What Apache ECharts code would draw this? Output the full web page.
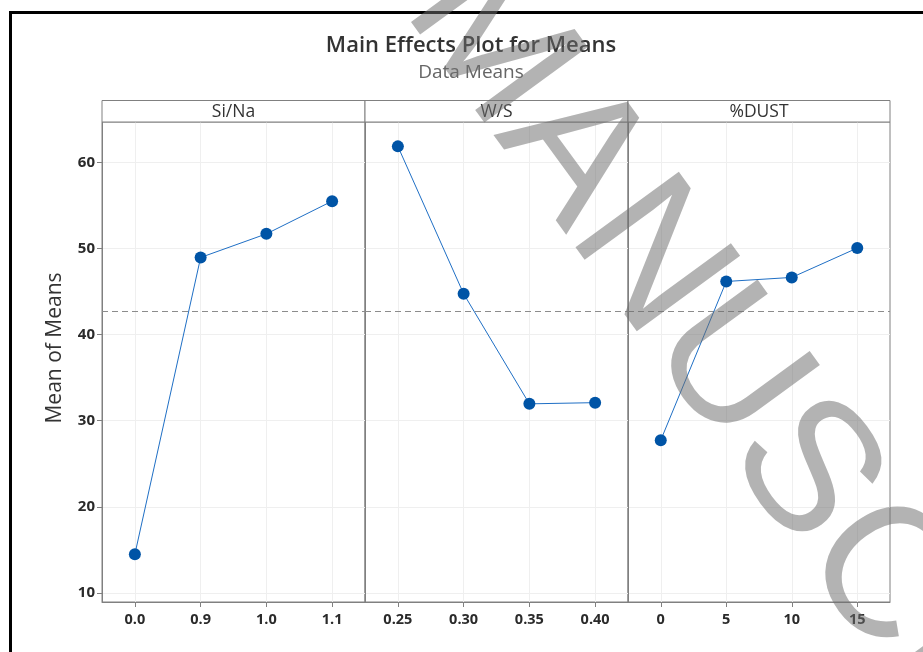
<!DOCTYPE html>
<html>
<head>
<meta charset="utf-8">
<script src="https://cdn.jsdelivr.net/npm/echarts@6/dist/echarts.min.js"></script>
<style>
html,body{margin:0;padding:0;background:#fff;}
#c{width:923px;height:652px;}
</style>
</head>
<body>
<div id="c"></div>
<script>
const factorNames = ['Si/Na', 'W/S', '%DUST'];
const siNaLabels = ['0.0', '0.9', '1.0', '1.1'];
const siNaMeans = [14.5, 48.96, 51.7, 55.5];
const wsLabels = ['0.25', '0.30', '0.35', '0.40'];
const wsMeans = [61.86, 44.74, 31.96, 32.1];
const dustLabels = ['0', '5', '10', '15'];
const dustMeans = [27.74, 46.17, 46.64, 50.05];
const yTicks = [10, 20, 30, 40, 50, 60];
const grandMean = 42.67;
const yMin = 8.95;
const yMax = 64.69;

const panelLabels = [siNaLabels, wsLabels, dustLabels];
const panelMeans = [siNaMeans, wsMeans, dustMeans];

const chart = echarts.init(document.getElementById('c'), null, {renderer: 'canvas'});

const panelLeft = [102, 365, 628];
const panelWidth = [263, 263, 262];
const gridTop = 122, gridHeight = 480;
const fontFam = '"Open Sans", "Noto Sans", sans-serif';

const grids = [], xAxes = [], yAxes = [], series = [], headers = [];
for (let i = 0; i < 3; i++) {
  grids.push({
    left: panelLeft[i], top: gridTop, width: panelWidth[i], height: gridHeight,
    show: true, borderColor: '#808080', borderWidth: 1, backgroundColor: 'transparent',
    containLabel: false
  });
  xAxes.push({
    type: 'category', gridIndex: i, data: panelLabels[i], boundaryGap: true,
    axisLine: {show: true, lineStyle: {color: '#808080', width: 1}},
    axisTick: {show: true, alignWithLabel: true, length: 5, lineStyle: {color: '#808080'}},
    axisLabel: {color: '#2a2a2a', fontSize: 14.5, fontFamily: fontFam, fontWeight: 'bold', margin: 10},
    splitLine: {show: true, alignWithLabel: true, lineStyle: {color: '#efefef', width: 1}}
  });
  yAxes.push({
    type: 'value', gridIndex: i, min: yMin, max: yMax,
    axisLine: {show: true, lineStyle: {color: '#808080', width: 1}},
    axisTick: {show: i === 0, length: 5, customValues: yTicks, lineStyle: {color: '#808080'}},
    axisLabel: {
      show: i === 0, color: '#2a2a2a', fontSize: 15, fontFamily: fontFam, fontWeight: 'bold', margin: 7,
      customValues: yTicks,
      formatter: v => String(v)
    },
    splitLine: {show: true, lineStyle: {color: '#efefef', width: 1}}
  });
  series.push({
    type: 'line', xAxisIndex: i, yAxisIndex: i, data: panelMeans[i],
    symbol: 'circle', symbolSize: 12,
    itemStyle: {color: '#0054A6'},
    lineStyle: {color: '#1F6FC5', width: 1},
    z: 5,
    markLine: {
      silent: true, symbol: 'none', label: {show: false},
      lineStyle: {color: '#8c8c8c', type: [6, 4], width: 1},
      data: [{yAxis: grandMean}]
    }
  });
  headers.push({
    type: 'rect', z: 10,
    shape: {x: panelLeft[i], y: 100.5, width: panelWidth[i], height: 21.5},
    style: {fill: '#fff', stroke: '#808080', lineWidth: 1}
  });
  headers.push({
    type: 'text', z: 11,
    x: panelLeft[i] + panelWidth[i] / 2, y: 112,
    style: {text: factorNames[i], fill: '#333', font: '17.5px ' + fontFam, textAlign: 'center', textVerticalAlign: 'middle'}
  });
}

const graphics = [
  {type: 'rect', z: 0, shape: {x: 10.5, y: 12.5, width: 1000, height: 1000}, style: {fill: 'transparent', stroke: '#000', lineWidth: 3}},
  {type: 'text', z: 1, x: 471, y: 46,
   style: {text: 'Main Effects Plot for Means', fill: '#333', font: '600 22px ' + fontFam, textAlign: 'center', textVerticalAlign: 'middle'}},
  {type: 'text', z: 1, x: 471, y: 73,
   style: {text: 'Data Means', fill: '#666', font: '19px ' + fontFam, textAlign: 'center', textVerticalAlign: 'middle'}},
  {type: 'text', z: 1, x: 55, y: 348, rotation: Math.PI / 2,
   style: {text: 'Mean of Means', fill: '#333', font: '21px ' + fontFam, textAlign: 'center', textVerticalAlign: 'middle'}},
  {type: 'text', z: 100, x: 806, y: 476, rotation: -0.94, silent: true,
   style: {text: 'MANUSCRIPT', fill: 'rgba(110,110,110,0.52)', font: '186px "Liberation Sans", Arial, sans-serif', textAlign: 'center', textVerticalAlign: 'middle'}}
].concat(headers);

chart.setOption({
  backgroundColor: '#fff',
  animation: false,
  grid: grids,
  xAxis: xAxes,
  yAxis: yAxes,
  series: series,
  graphic: graphics
});
</script>
</body>
</html>
